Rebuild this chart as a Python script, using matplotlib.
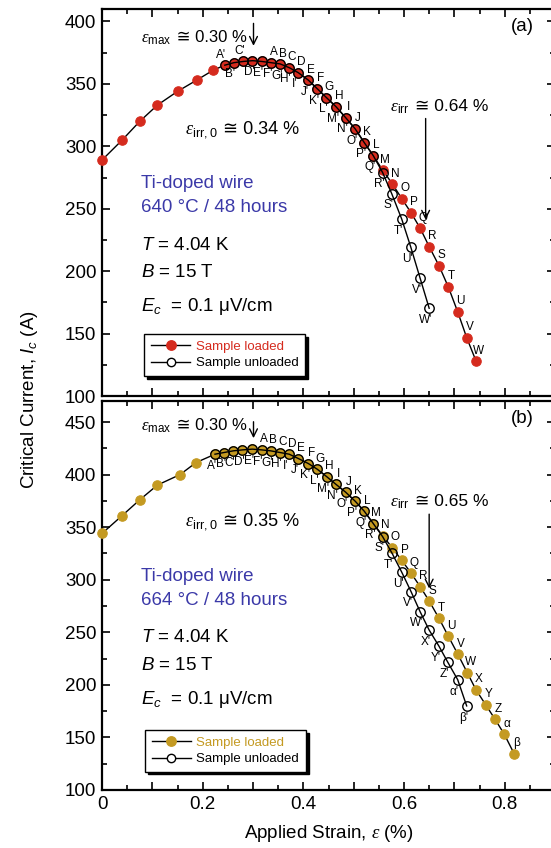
import matplotlib
matplotlib.use("Agg")
import matplotlib.pyplot as plt
from matplotlib.ticker import MultipleLocator, FuncFormatter

plt.rcParams['font.family'] = ['Liberation Sans', 'DejaVu Sans']
plt.rcParams['mathtext.fontset'] = 'custom'
plt.rcParams['mathtext.rm'] = 'Liberation Sans'
plt.rcParams['mathtext.it'] = 'Liberation Sans:italic'
plt.rcParams['mathtext.bf'] = 'Liberation Sans:bold'
plt.rcParams['mathtext.cal'] = 'Liberation Serif:italic'

RED = '#d52b1e'
GOLD = '#c49a22'
BLUE = '#3b39a8'

# ====== panel (a): 640 C / 48 h ======
A_LOAD_EPS = [0, 0.04, 0.075, 0.11, 0.15, 0.188, 0.221,
              0.244, 0.262, 0.281, 0.299, 0.317,
              0.336, 0.354, 0.372, 0.390, 0.410, 0.428, 0.446, 0.465, 0.484, 0.503,
              0.521, 0.539, 0.5575, 0.577, 0.5955, 0.614, 0.632, 0.650, 0.6696,
              0.688, 0.7067, 0.7245, 0.743]
A_LOAD_IC = [289, 305, 320, 333, 344, 353, 361,
             365, 367, 368, 368.6, 368,
             367, 366, 363, 359, 353, 346, 339, 331.7, 323, 314,
             303, 292.5, 281, 269.8, 258.2, 246.8, 234.5, 219.7, 204.3,
             187.4, 167.4, 146.8, 128.1]
A_LOAD_LBL = [''] * 12 + list("ABCDEFGHIJKLMNOPQRSTUVW")

A_UNL_EPS = [0.244, 0.262, 0.281, 0.299, 0.317, 0.336, 0.354, 0.372, 0.390,
             0.410, 0.428, 0.446, 0.465, 0.484, 0.503, 0.521, 0.539,
             0.5575, 0.5755, 0.5955, 0.6133, 0.632, 0.650]
A_UNL_IC = [365, 367, 368, 368.6, 368, 367, 366, 363, 359,
            353, 346, 339, 331.7, 323, 314, 303, 292.5,
            279, 262.2, 241.7, 219.5, 194.4, 170.3]
A_UNL_LBL = [c + "'" for c in "ABCDEFGHIJKLMNOPQRSTUVW"]

# ====== panel (b): 664 C / 48 h ======
B_LOAD_EPS = [0, 0.04, 0.075, 0.11, 0.155, 0.187,
              0.2245, 0.2424, 0.261, 0.279, 0.2987,
              0.317, 0.335, 0.3537, 0.372, 0.390, 0.410, 0.428, 0.4465, 0.4649,
              0.484, 0.503, 0.521, 0.539, 0.5575, 0.5765, 0.5955, 0.614, 0.632,
              0.650, 0.6696, 0.688, 0.7067, 0.7257, 0.743, 0.762, 0.781, 0.7994, 0.8186]
B_LOAD_IC = [344, 361, 376, 390, 400, 411.5,
             419.4, 421, 422.6, 423.5, 424.2,
             423.5, 422.6, 421, 419.4, 415.3, 410.5, 405, 398, 390.7,
             383.3, 374.7, 365.2, 353.4, 342, 330.5, 318.5, 306.3, 293.5,
             279.8, 263.2, 246.3, 229.4, 211.6, 195.3, 181.3, 167.2, 152.9, 134.7]
B_LOAD_LBL = [''] * 11 + list("ABCDEFGHIJKLMNOPQRSTUVWXYZ") + ['α', 'β']

B_UNL_EPS = [0.2245, 0.2424, 0.261, 0.279, 0.2987, 0.317, 0.335, 0.3537, 0.372,
             0.390, 0.410, 0.428, 0.4465, 0.4649, 0.484, 0.503, 0.521, 0.539,
             0.5575, 0.5765, 0.5955, 0.614, 0.632, 0.650, 0.6696, 0.6868, 0.7067, 0.7245]
B_UNL_IC = [419.4, 421, 422.6, 423.5, 424.2, 423.5, 422.6, 421, 419.4,
            415.3, 410.5, 405, 398, 390.7, 383.3, 374.7, 365.2, 353.4,
            341, 325, 307.2, 288.7, 269.6, 252.1, 236.7, 221.7, 204.9, 180]
B_UNL_LBL = [c + "'" for c in "ABCDEFGHIJKLMNOPQRSTUVWXYZ"] + ["α'", "β'"]

PANELS = [
    dict(tag="(a)", color=RED, temp="640 °C / 48 hours", ylim=(100, 410),
         ymax_y=383.7, ymax_arrow=(400.7, 378.3),
         irr0="0.34", irr0_y=310, irr="0.64", irr_xy=(0.572, 328.2), irr_arrow=(0.643, 324.5, 239),
         text_y=(270, 250.8, 220.3, 198.6, 172), leg_anchor=(0.093, 0.052),
         load=(A_LOAD_EPS, A_LOAD_IC, A_LOAD_LBL), unl=(A_UNL_EPS, A_UNL_IC, A_UNL_LBL),
         above={"A'", "C'"}),
    dict(tag="(b)", color=GOLD, temp="664 °C / 48 hours", ylim=(100, 470),
         ymax_y=442.3, ymax_arrow=(452.9, 432),
         irr0="0.35", irr0_y=351.3, irr="0.65", irr_xy=(0.572, 370.3), irr_arrow=(0.650, 365, 289),
         text_y=(302.7, 280.7, 245.4, 218.6, 186), leg_anchor=(0.095, 0.047),
         load=(B_LOAD_EPS, B_LOAD_IC, B_LOAD_LBL), unl=(B_UNL_EPS, B_UNL_IC, B_UNL_LBL),
         above=set()),
]

EPS = r'$\mathcal{\varepsilon}$'


def eps_text(ax, x, y, sub, rest, fs):
    # epsilon with subscript, then the "≅ ..." part in a normal text (glyph fallback)
    t = ax.text(x, y, EPS + r'$_{\mathrm{' + sub + '}}$', fontsize=fs, va='baseline')
    ax.annotate(' ≅ ' + rest, xy=(1.0, y), xycoords=(t, 'data'), va='baseline', fontsize=fs)


fig = plt.figure(figsize=(5.51, 8.48), dpi=100)
ax_a = fig.add_axes([102 / 551, 1 - 396 / 848, 453 / 551, 387 / 848])
ax_b = fig.add_axes([102 / 551, 1 - 790 / 848, 453 / 551, 389 / 848])

for ax, p in zip([ax_a, ax_b], PANELS):
    le, li, ll = p["load"]
    ue, ui, ul = p["unl"]
    c = p["color"]
    ax.plot(le, li, '-', color='k', lw=1.0, zorder=2)
    ax.plot(le, li, 'o', ms=6.8, mfc=c, mec=c, mew=0.8, zorder=3, clip_on=False)
    ax.plot(ue, ui, '-', color='k', lw=1.0, zorder=4)
    ax.plot(ue, ui, 'o', ms=6.8, mfc='none', mec='k', mew=1.0, zorder=5)
    # legend handles
    h1, = ax.plot([], [], '-o', color='k', lw=1.0, ms=6.8, mfc=c, mec=c, label='Sample loaded')
    h2, = ax.plot([], [], '-o', color='k', lw=1.0, ms=6.0, mfc='white', mec='k', label='Sample unloaded')

    for x, y, s in zip(le, li, ll):
        if s:
            ax.annotate(s, (x, y), xytext=(2, 7.5), textcoords='offset points',
                        ha='center', va='center', fontsize=8.5, zorder=6)
    for x, y, s in zip(ue, ui, ul):
        dy = 7.5 if s in p["above"] else -8.5
        ax.annotate(s, (x, y), xytext=(-2.5, dy), textcoords='offset points',
                    ha='center', va='center', fontsize=8.5, zorder=6)

    # strain markers
    eps_text(ax, 0.0775, p["ymax_y"], 'max', '0.30 %', 12)
    ax.annotate('', xy=(0.301, p["ymax_arrow"][1]), xytext=(0.301, p["ymax_arrow"][0]),
                arrowprops=dict(arrowstyle='->', lw=1.0, color='k', mutation_scale=14))
    eps_text(ax, 0.165, p["irr0_y"], 'irr,0', p["irr0"] + ' %', 13)
    eps_text(ax, p["irr_xy"][0], p["irr_xy"][1], 'irr', p["irr"] + ' %', 12.5)
    xa, ytop, ytip = p["irr_arrow"]
    ax.annotate('', xy=(xa, ytip), xytext=(xa, ytop),
                arrowprops=dict(arrowstyle='->', lw=1.0, color='k', mutation_scale=14))

    ty = p["text_y"]
    ax.text(0.0775, ty[0], 'Ti-doped wire', color=BLUE, fontsize=13.5, va='center')
    ax.text(0.0775, ty[1], p["temp"], color=BLUE, fontsize=13.5, va='center')
    ax.text(0.0775, ty[2], r'$T$ = 4.04 K', fontsize=13.5, va='center')
    ax.text(0.0775, ty[3], r'$B$ = 15 T', fontsize=13.5, va='center')
    ax.text(0.0775, ty[4], r'$E_{c}$  = 0.1 μV/cm', fontsize=13.5, va='center')
    ax.text(0.928, 0.955, p["tag"], transform=ax.transAxes, fontsize=13.5, ha='center', va='center')

    leg = ax.legend(handles=[h1, h2], loc='lower left', bbox_to_anchor=p["leg_anchor"],
                    fontsize=9.5, frameon=True, fancybox=False, handlelength=3.0,
                    borderpad=0.5, labelspacing=0.3, handletextpad=0.4, borderaxespad=0,
                    shadow={'color': 'black', 'alpha': 1.0})
    leg.get_frame().set_edgecolor('k')
    leg.get_frame().set_linewidth(1.0)
    leg.get_texts()[0].set_color(c)

    ax.set_xlim(0, 0.9)
    ax.set_ylim(*p["ylim"])
    ax.xaxis.set_major_locator(MultipleLocator(0.1))
    ax.xaxis.set_minor_locator(MultipleLocator(0.05))
    ax.yaxis.set_major_locator(MultipleLocator(50))
    ax.yaxis.set_minor_locator(MultipleLocator(25))
    ax.tick_params(which='both', direction='in', top=True, right=True, width=1.2, labelsize=13.5, pad=4)
    ax.tick_params(which='major', length=6)
    ax.tick_params(which='minor', length=3.5)
    for sp in ax.spines.values():
        sp.set_linewidth(1.6)

ax_a.tick_params(labelbottom=False)
ax_b.xaxis.set_major_formatter(FuncFormatter(
    lambda v, pos: ('0' if abs(v) < 1e-9 else f'{v:.1f}') if round(v * 10) % 2 == 0 else ''))

fig.text(30 / 551, 1 - 400 / 848, r'Critical Current, $I_c$ (A)', rotation=90,
         ha='center', va='center', fontsize=13.5)
fig.text(329 / 551, 1 - 833 / 848, 'Applied Strain, ' + EPS + ' (%)',
         ha='center', va='center', fontsize=13.5)

fig.savefig('out.png', dpi=100)
